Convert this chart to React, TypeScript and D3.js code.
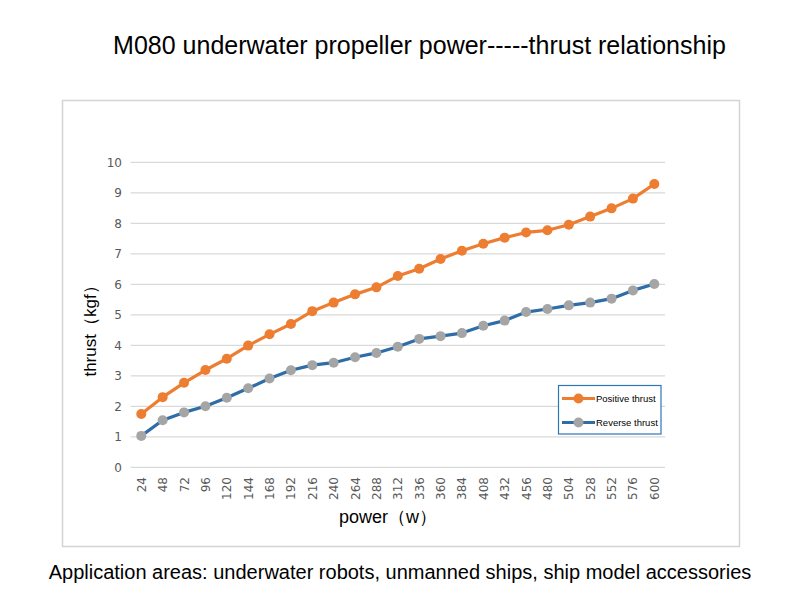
import * as d3 from 'd3'
import { useEffect, useRef } from 'react'

const powers = ['24', '48', '72', '96', '120', '144', '168', '192', '216', '240', '264', '288', '312', '336', '360', '384', '408', '432', '456', '480', '504', '528', '552', '576', '600']
const positiveThrust = [1.75, 2.3, 2.77, 3.19, 3.56, 3.99, 4.36, 4.7, 5.12, 5.4, 5.67, 5.9, 6.27, 6.51, 6.83, 7.1, 7.33, 7.53, 7.7, 7.77, 7.95, 8.22, 8.49, 8.81, 9.29]
const reverseThrust = [1.03, 1.54, 1.8, 2.0, 2.28, 2.59, 2.91, 3.18, 3.35, 3.43, 3.61, 3.75, 3.95, 4.21, 4.3, 4.4, 4.64, 4.81, 5.09, 5.19, 5.31, 5.4, 5.53, 5.8, 6.01]
const yTicks = [0, 1, 2, 3, 4, 5, 6, 7, 8, 9, 10]
const seriesNames = ['Positive thrust', 'Reverse thrust']

const App = () => {
    const svgRef = useRef<SVGSVGElement>(null)

    useEffect(() => {
        const w = 800
        const h = 600
        const svg = d3.select(svgRef.current).attr('width', w).attr('height', h)
        svg.selectAll('*').remove()

        const font = 'Liberation Sans, Arial, sans-serif'

        // title and caption
        svg.append('text').attr('x', 419.5).attr('y', 54).attr('text-anchor', 'middle')
            .style('font-family', font).style('font-size', '25px').attr('fill', '#000')
            .text('M080 underwater propeller power-----thrust relationship')
        svg.append('text').attr('x', 400).attr('y', 579).attr('text-anchor', 'middle')
            .style('font-family', font).style('font-size', '20px').attr('fill', '#000')
            .text('Application areas: underwater robots, unmanned ships, ship model accessories')

        // chart frame
        svg.append('rect').attr('x', 62.5).attr('y', 100.5).attr('width', 677).attr('height', 446)
            .attr('fill', 'none').attr('stroke', '#d4d4d4').attr('stroke-width', 1.5)

        const x = d3.scaleBand().domain(powers).range([130.6, 665])
        const y = d3.scaleLinear().domain([0, 10]).range([467.3, 162.3])
        const cx = (d: string) => (x(d) as number) + x.bandwidth() / 2

        // gridlines
        svg.append('g').selectAll('line').data(yTicks).join('line')
            .attr('x1', 130.6).attr('x2', 665)
            .attr('y1', d => y(d)).attr('y2', d => y(d))
            .attr('stroke', '#d9d9d9').attr('stroke-width', 1.2)

        // y tick labels
        svg.append('g').selectAll('text').data(yTicks).join('text')
            .attr('x', 122).attr('y', d => y(d) + 4.5).attr('text-anchor', 'end')
            .style('font-family', 'DejaVu Sans, sans-serif').style('font-size', '12px').attr('fill', '#595959')
            .text(d => d)

        // x tick labels
        svg.append('g').selectAll('text').data(powers).join('text')
            .attr('transform', d => `translate(${cx(d) + 4.5},477) rotate(-90)`)
            .attr('text-anchor', 'end')
            .style('font-family', 'DejaVu Sans, sans-serif').style('font-size', '12px').attr('fill', '#595959')
            .text(d => d)

        // axis titles
        svg.append('text').attr('x', 388).attr('y', 523).attr('text-anchor', 'middle')
            .style('font-family', font).style('font-size', '18px').attr('fill', '#000')
            .text('power（w）')
        svg.append('text').attr('transform', 'translate(96,327) rotate(-90)').attr('text-anchor', 'middle')
            .style('font-family', font).style('font-size', '17px').attr('fill', '#000')
            .text('thrust（kgf）')

        const series = [
            { values: positiveThrust, line: '#ed7d31', marker: '#ed7d31' },
            { values: reverseThrust, line: '#2e6da8', marker: '#a5a5a5' }
        ]

        const lineGen = d3.line<number>().x((_, i) => cx(powers[i])).y(d => y(d))

        series.forEach(s => {
            svg.append('path').datum(s.values).attr('d', lineGen)
                .attr('fill', 'none').attr('stroke', s.line).attr('stroke-width', 3.2)
                .attr('stroke-linejoin', 'round')
            svg.append('g').selectAll('circle').data(s.values).join('circle')
                .attr('cx', (_, i) => cx(powers[i])).attr('cy', d => y(d)).attr('r', 5)
                .attr('fill', s.marker)
        })

        // legend
        const lg = svg.append('g')
        lg.append('rect').attr('x', 558.5).attr('y', 385.5).attr('width', 102.5).attr('height', 48.5)
            .attr('fill', '#fff').attr('stroke', '#2e75b6').attr('stroke-width', 1.2)
        series.forEach((s, i) => {
            const ly = 398.5 + i * 24
            lg.append('line').attr('x1', 562).attr('x2', 595).attr('y1', ly).attr('y2', ly)
                .attr('stroke', s.line).attr('stroke-width', 3.2)
            lg.append('circle').attr('cx', 578.5).attr('cy', ly).attr('r', 5).attr('fill', s.marker)
            lg.append('text').attr('x', 596).attr('y', ly + 3.5)
                .style('font-family', font).style('font-size', '9.5px').attr('fill', '#000')
                .text(seriesNames[i])
        })
    }, [])

    return (
        <div>
            <svg ref={svgRef} style={{ position: 'absolute', left: 0, top: 0 }}></svg>
        </div>
    )
}

export default App
